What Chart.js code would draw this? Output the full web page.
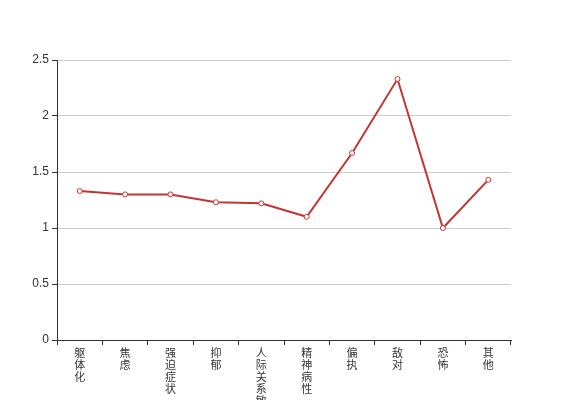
<!DOCTYPE html>
<html>
<head>
<meta charset="utf-8">
<script src="https://cdn.jsdelivr.net/npm/chart.js@4"></script>
<style>
  html, body { margin: 0; padding: 0; background: #fff; }
  #wrap { width: 567px; height: 400px; }
</style>
</head>
<body>
<div id="wrap"><canvas id="chart" width="567" height="400"></canvas></div>
<script>
  const categories = ["躯体化", "焦虑", "强迫症状", "抑郁", "人际关系敏感", "精神病性", "偏执", "敌对", "恐怖", "其他"];
  const scores = [1.33, 1.30, 1.30, 1.23, 1.22, 1.10, 1.67, 2.33, 1.00, 1.43];
  const yTicks = [0, 0.5, 1, 1.5, 2, 2.5];

  const family = "'Liberation Sans', 'Noto Sans CJK SC', sans-serif";

  new Chart(document.getElementById("chart"), {
    type: "line",
    data: {
      // each label stacked one character per line
      labels: categories.map((c) => c.split("")),
      datasets: [
        {
          data: scores,
          borderColor: "#c23531",
          borderWidth: 2,
          tension: 0,
          pointRadius: 2.5,
          pointBorderWidth: 1,
          pointBackgroundColor: "#fff",
          pointBorderColor: "#c23531",
        },
      ],
    },
    options: {
      responsive: false,
      animation: false,
      layout: { padding: { top: 60, right: 56, left: 0, bottom: 0 } },
      plugins: { legend: { display: false }, tooltip: { enabled: false } },
      scales: {
        x: {
          offset: true,
          grid: {
            offset: true,
            drawOnChartArea: false,
            tickLength: 5,
            color: "#333",
          },
          border: { color: "#333" },
          ticks: {
            autoSkip: false,
            maxRotation: 0,
            minRotation: 0,
            padding: 3,
            color: "#333",
            font: { family: family, size: 11, lineHeight: "12px" },
          },
          afterFit: (s) => { s.height = 60; },
        },
        y: {
          min: 0,
          max: 2.5,
          afterBuildTicks: (s) => { s.ticks = yTicks.map((v) => ({ value: v })); },
          grid: { color: "#ccc", tickColor: "#333", tickLength: 5 },
          border: { color: "#333" },
          ticks: {
            padding: 3,
            color: "#333",
            font: { family: family, size: 12 },
            callback: (v) => String(v),
          },
          afterFit: (s) => { s.width = 57; },
        },
      },
    },
  });
</script>
</body>
</html>
